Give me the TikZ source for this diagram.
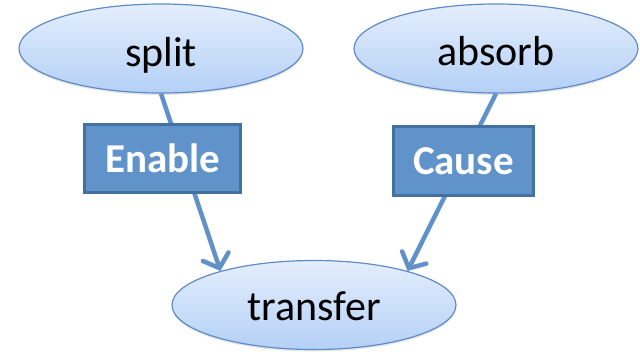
\documentclass[tikz,border=0pt]{standalone}
\usepackage{fontspec}
\setmainfont{Carlito}
\usetikzlibrary{shapes.geometric,arrows.meta,shadows}
\definecolor{ellTop}{RGB}{228,238,253}
\definecolor{ellBot}{RGB}{180,208,246}
\definecolor{ellLine}{RGB}{95,140,198}
\definecolor{boxFill}{RGB}{96,147,201}
\definecolor{boxLine}{RGB}{66,113,160}
\definecolor{edgeCol}{RGB}{96,145,200}
\tikzset{
  ellnode/.style={ellipse, draw=ellLine, line width=1.2pt, top color=ellTop, bottom color=ellBot,
    minimum width=284pt, minimum height=89pt, inner sep=0pt, font=\fontsize{42}{46}\selectfont,
    text height=30pt, text depth=0pt,
    drop shadow={opacity=0.2, shadow xshift=0pt, shadow yshift=-2pt}},
  relbox/.style={rectangle, draw=boxLine, line width=3pt, fill=boxFill, text=white,
    inner sep=0pt, font=\bfseries\fontsize{41}{46}\selectfont},
  edge/.style={draw=edgeCol, line width=4.5pt,
    -{Straight Barb[length=12pt,width=27pt,line cap=round]}}
}
\begin{document}
\begin{tikzpicture}[x=1pt,y=-1pt]
\useasboundingbox (0,0) rectangle (640,351);
\node[ellnode] (split) at (161,48.5) {\raisebox{-3pt}{split}};
\node[ellnode] (absorb) at (496,48.5) {\raisebox{-1.5pt}{absorb}};
\node[ellnode] (transfer) at (314,305) {transfer};
\draw[edge] (split.south) -- (transfer.160);
\draw[edge] (absorb.south) -- (transfer.20);
\node[relbox, minimum width=156pt, minimum height=68pt] (enable) at (162.5,158.5) {Enable};
\node[relbox, minimum width=140pt, minimum height=69pt] (cause) at (463.5,161) {Cause};
\end{tikzpicture}
\end{document}
